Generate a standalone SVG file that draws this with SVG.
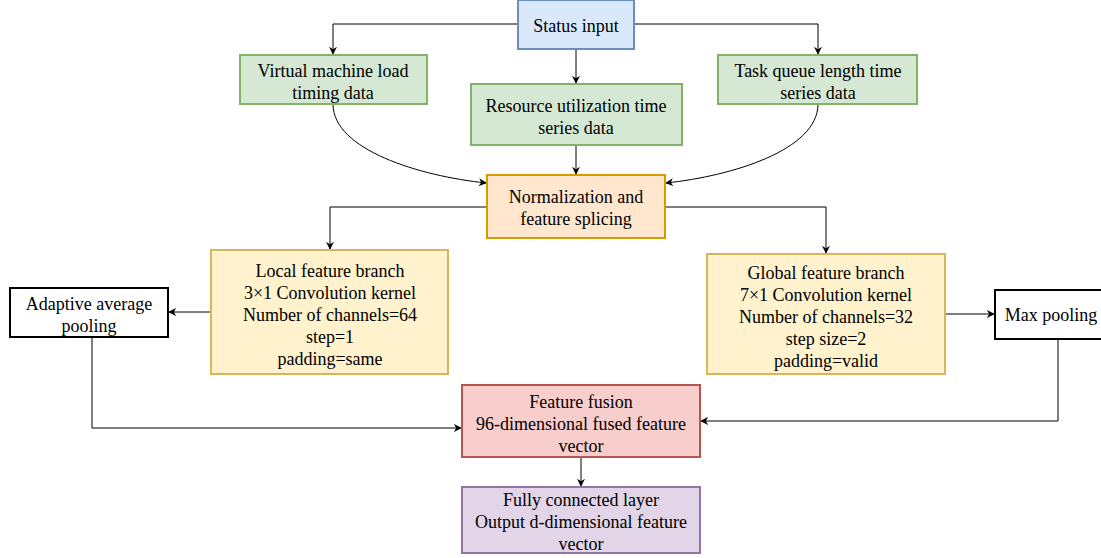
<svg xmlns="http://www.w3.org/2000/svg" width="1101" height="558" viewBox="0 0 1101 558">
<style>
.c{fill:none;stroke:#000;stroke-width:1}
.blue{fill:#dae8fc;stroke:#6c8ebf;stroke-width:2}
.green{fill:#d5e8d4;stroke:#82b366;stroke-width:2}
.orange{fill:#ffe6cc;stroke:#d79b00;stroke-width:2}
.yellow{fill:#fff2cc;stroke:#d6b656;stroke-width:2}
.red{fill:#f8cecc;stroke:#b85450;stroke-width:2}
.purple{fill:#e1d5e7;stroke:#9673a6;stroke-width:2}
.plain{fill:#fff;stroke:#000;stroke-width:2}
</style>
<defs>
<marker id="ah" viewBox="0 0 10 10" refX="9" refY="5" markerWidth="8" markerHeight="8" markerUnits="userSpaceOnUse" orient="auto">
<path d="M0,0 L10,5 L0,10 L3,5 Z" fill="#000"/>
</marker>
</defs>
<rect width="1101" height="558" fill="#fff"/>
<g id="connectors">
<path class="c" d="M518 24 H333 V54" marker-end="url(#ah)"/>
<path class="c" d="M634 24 H818 V54" marker-end="url(#ah)"/>
<path class="c" d="M576 49 V83" marker-end="url(#ah)"/>
<path class="c" d="M576 145 V174" marker-end="url(#ah)"/>
<path class="c" d="M333 104 C333 150 420 176 486 183" marker-end="url(#ah)"/>
<path class="c" d="M818 104 C818 150 732 176 666 183" marker-end="url(#ah)"/>
<path class="c" d="M487 207 H330 V249" marker-end="url(#ah)"/>
<path class="c" d="M665 207 H826 V253" marker-end="url(#ah)"/>
<path class="c" d="M211 312 H169" marker-end="url(#ah)"/>
<path class="c" d="M945 314 H994" marker-end="url(#ah)"/>
<path class="c" d="M92 337 V428 H461" marker-end="url(#ah)"/>
<path class="c" d="M1058 339 V421 H701" marker-end="url(#ah)"/>
<path class="c" d="M581 457 V486" marker-end="url(#ah)"/>
</g>
<g font-family="Liberation Serif, Times New Roman, serif" font-size="18" text-anchor="middle" fill="#000">
<g id="status-input"><rect class="blue" x="518" y="0" width="116" height="49"/><text x="576" y="32">Status input</text></g>
<g id="vm-load"><rect class="green" x="240" y="55" width="187" height="49"/><text x="333" y="77">Virtual machine load</text><text x="333" y="99">timing data</text></g>
<g id="resource-util"><rect class="green" x="471" y="84" width="211" height="61"/><text x="576" y="112">Resource utilization time</text><text x="576" y="134">series data</text></g>
<g id="task-queue"><rect class="green" x="718" y="55" width="199" height="49"/><text x="818" y="77">Task queue length time</text><text x="818" y="99">series data</text></g>
<g id="normalization"><rect class="orange" x="487" y="175" width="178" height="63"/><text x="576" y="203">Normalization and</text><text x="576" y="225">feature splicing</text></g>
<g id="local-branch"><rect class="yellow" x="211" y="250" width="237" height="124"/><text x="330" y="277">Local feature branch</text><text x="330" y="299">3×1 Convolution kernel</text><text x="330" y="321">Number of channels=64</text><text x="330" y="343">step=1</text><text x="330" y="365">padding=same</text></g>
<g id="global-branch"><rect class="yellow" x="707" y="254" width="238" height="120"/><text x="826" y="279">Global feature branch</text><text x="826" y="301">7×1 Convolution kernel</text><text x="826" y="323">Number of channels=32</text><text x="826" y="345">step size=2</text><text x="826" y="367">padding=valid</text></g>
<g id="adaptive-pool"><rect class="plain" x="10" y="288" width="158" height="49"/><text x="89" y="310">Adaptive average</text><text x="89" y="332">pooling</text></g>
<g id="max-pool"><rect class="plain" x="995" y="290" width="110" height="49"/><text x="1051" y="321">Max pooling</text></g>
<g id="feature-fusion"><rect class="red" x="462" y="385" width="238" height="72"/><text x="581" y="408">Feature fusion</text><text x="581" y="430">96-dimensional fused feature</text><text x="581" y="452">vector</text></g>
<g id="fully-connected"><rect class="purple" x="462" y="487" width="238" height="66"/><text x="581" y="506">Fully connected layer</text><text x="581" y="528">Output d-dimensional feature</text><text x="581" y="550">vector</text></g>
</g>
</svg>
